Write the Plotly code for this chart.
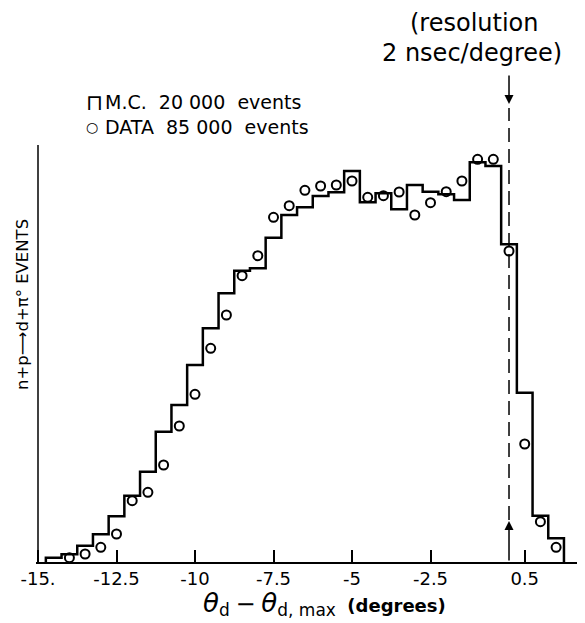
import plotly.graph_objects as go

# ---- data (heights in arbitrary event units) ----
mc_centers = [-14.5, -14.0, -13.5, -13.0, -12.5, -12.0, -11.5, -11.0, -10.5, -10.0,
              -9.5, -9.0, -8.5, -8.0, -7.5, -7.0, -6.5, -6.0, -5.5, -5.0,
              -4.5, -4.0, -3.5, -3.0, -2.5, -2.0, -1.5, -1.0, -0.5, 0.0,
              0.5, 1.0, 1.5]
mc_events = [4.3, 7.7, 16.3, 27.7, 45.7, 66.3, 90.3, 130.3, 157, 197,
             233.7, 268.7, 291.3, 293.7, 324.3, 347, 354.7, 366, 369.7, 391,
             359.7, 368.7, 352.7, 377, 370.3, 367.7, 362, 399.7, 396, 317.7,
             169.3, 46.3, 23.7]
bin_width = 0.5

data_x = [-14.0, -13.5, -13.0, -12.5, -12.0, -11.5, -11.0, -10.5, -10.0,
          -9.5, -9.0, -8.5, -8.0, -7.5, -7.0, -6.5, -6.0, -5.5, -5.0,
          -4.5, -4.0, -3.5, -3.0, -2.5, -2.0, -1.5, -1.0, -0.5, 0.0,
          0.5, 1.0, 1.5]
data_events = [4.3, 8, 14.7, 28, 61.3, 69.7, 97, 136, 167.7,
               213.7, 247, 286.3, 306.3, 344.7, 356.3, 371.7, 376, 377, 381,
               364.7, 366.3, 370, 347, 359.3, 370.3, 381, 402.7, 402.7, 311,
               118, 40.3, 14.7]

tick_vals = [-15, -12.5, -10, -7.5, -5, -2.5, 0.5]
tick_text = ["-15.", "-12.5", "-10", "-7.5", "-5", "-2.5", "0.5"]

# ---- layout geometry (page body adds an 8px margin) ----
PAGE_OFF = 8
W, H = 585 - PAGE_OFF, 623 - PAGE_OFF
L, R, T, B = 36 - PAGE_OFF, 0, 105 - PAGE_OFF, 61
plot_h = H - T - B          # 457
x_min = -15 - 2 / 31.4
x_max = 2.42
y_axis_top = 417            # y-axis line height (units)
res_line = 0.0

FONT = "DejaVu Sans"


def px(xp):
    """reference pixel x -> paper x"""
    return (xp - PAGE_OFF - L) / (W - L - R)


def py(yp):
    """reference pixel y -> paper y"""
    return (H - B - (yp - PAGE_OFF)) / plot_h


# step outline of the Monte Carlo histogram
step_x = [mc_centers[0] - bin_width / 2]
step_y = [0]
for c, v in zip(mc_centers, mc_events):
    step_x.append(c - bin_width / 2)
    step_y.append(v)
step_x.append(mc_centers[-1] + bin_width / 2)
step_y.append(0)

fig = go.Figure()
fig.add_trace(go.Scatter(
    x=step_x, y=step_y, mode="lines", line_shape="hv",
    line=dict(color="black", width=2.5), showlegend=False, hoverinfo="skip"))
fig.add_trace(go.Scatter(
    x=data_x, y=data_events, mode="markers",
    marker=dict(symbol="circle-open", size=9, color="black",
                line=dict(width=2, color="black")),
    showlegend=False, cliponaxis=False))

shapes = [
    # y axis line
    dict(type="line", xref="x", yref="y", x0=-15, x1=-15, y0=0, y1=y_axis_top,
         line=dict(color="black", width=1.5)),
    # dashed resolution line
    dict(type="line", xref="x", yref="y", x0=res_line, x1=res_line, y0=42, y1=454,
         line=dict(color="black", width=1.5, dash="14px,7px")),
]

annotations = [
    # down arrow
    dict(x=res_line, xref="x", y=py(104), yref="paper", ax=0, ay=-30,
         showarrow=True, arrowhead=2, arrowsize=1.2, arrowwidth=1.5,
         arrowcolor="black", text=""),
    # up arrow
    dict(x=res_line, xref="x", y=41, yref="y", ax=0, ay=41,
         showarrow=True, arrowhead=2, arrowsize=1.2, arrowwidth=1.5,
         arrowcolor="black", text=""),
    dict(x=px(474), y=py(23), xref="paper", yref="paper", showarrow=False,
         text="(resolution", font=dict(family=FONT, size=24, color="black"),
         xanchor="center", yanchor="middle"),
    dict(x=px(472), y=py(53), xref="paper", yref="paper", showarrow=False,
         text="2 nsec/degree)", font=dict(family=FONT, size=24, color="black"),
         xanchor="center", yanchor="middle"),
    # legend
    dict(x=px(84), y=py(102), xref="paper", yref="paper", showarrow=False,
         text="⊓", font=dict(family=FONT, size=22, color="black"),
         xanchor="left", yanchor="middle"),
    dict(x=px(103), y=py(102), xref="paper", yref="paper", showarrow=False,
         text="M.C.  20 000  events", font=dict(family=FONT, size=19, color="black"),
         xanchor="left", yanchor="middle"),
    dict(x=px(84), y=py(127), xref="paper", yref="paper", showarrow=False,
         text="○", font=dict(family=FONT, size=14, color="black"),
         xanchor="left", yanchor="middle"),
    dict(x=px(103), y=py(127), xref="paper", yref="paper", showarrow=False,
         text="DATA  85 000  events", font=dict(family=FONT, size=19, color="black"),
         xanchor="left", yanchor="middle"),
    # y-axis label
    dict(x=px(22), y=py(305), xref="paper", yref="paper", showarrow=False,
         text="n+p⟶d+π° EVENTS", textangle=-90,
         font=dict(family=FONT, size=16.5, color="black"),
         xanchor="center", yanchor="middle"),
    # x-axis label
    dict(x=px(324), y=py(604), xref="paper", yref="paper", showarrow=False,
         text=("<i><span style='font-size:26px'>θ</span></i>"
               "<sub><span style='font-size:17px'>d</span></sub>"
               " <span style='font-size:24px'>−</span> "
               "<i><span style='font-size:26px'>θ</span></i>"
               "<sub><span style='font-size:17px'>d, max</span></sub>"
               "  <b>(degrees)</b>"),
         font=dict(family=FONT, size=18, color="black"),
         xanchor="center", yanchor="middle"),
]

fig.update_layout(
    width=W, height=H,
    margin=dict(l=L, r=R, t=T, b=B, pad=0),
    paper_bgcolor="white", plot_bgcolor="white",
    shapes=shapes, annotations=annotations,
    showlegend=False,
    xaxis=dict(range=[x_min, x_max], showgrid=False, zeroline=False,
               showline=True, linecolor="black", linewidth=1.5,
               ticks="inside", ticklen=12, tickwidth=1.5, tickcolor="black",
               tickvals=tick_vals, ticktext=tick_text,
               tickfont=dict(family=FONT, size=18, color="black")),
    yaxis=dict(range=[0, plot_h], visible=False, showgrid=False, zeroline=False),
)

fig.write_html("out.html")
